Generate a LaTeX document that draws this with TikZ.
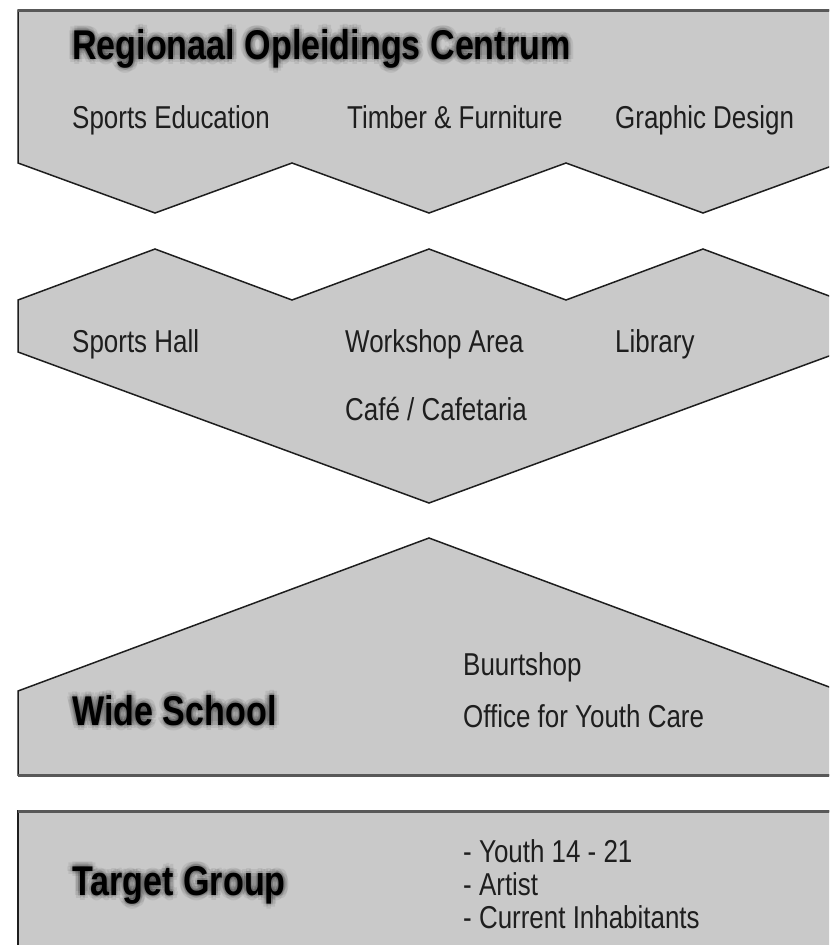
\documentclass[tikz,border=0pt]{standalone}
\usepackage{fontspec}
\setmainfont{Liberation Sans}[FakeStretch=0.82]
\usepackage{tikz}
\usetikzlibrary{positioning}

\definecolor{blockgray}{RGB}{201,201,201}
\definecolor{rimgray}{RGB}{88,88,88}
\definecolor{ink}{RGB}{30,30,30}

\tikzset{
	block/.style={fill=blockgray, draw=ink, line width=0.045cm, line join=miter},
	rim/.style={draw=rimgray, line width=0.09cm},
	item/.style={anchor=base west, inner sep=0pt, text=ink, font=\fontsize{27}{32}\selectfont},
	title/.style={anchor=base west, inner sep=0pt, text=black, font=\fontsize{35.5}{42}\selectfont\bfseries},
}

% bold heading with a soft dark halo behind it
\newcommand{\glowtitle}[3]{%
	\foreach \a in {0,45,...,315}{
		\foreach \r in {2,5}{
			\node[title, opacity=0.07, shift={(\a:\r)}] (#1-\a-\r) at (#2) {#3};
		}
	}
	\node[title] (#1) at (#2) {#3};
}

\begin{document}
\begin{tikzpicture}[x=0.03cm, y=-0.03cm]
				\useasboundingbox (0,0) rectangle (829,945);
				\clip (0,0) rectangle (829,945);
				%%%blocks
				%ROC, zigzag underneath
				\draw[block] (18,10) -- (840,10) -- (840,163) -- (703,213) -- (566,163) -- (429,213)
					-- (292,163) -- (155,213) -- (18,163) -- cycle;
				\draw[rim] (18,10) -- (840,10);
				%shared facilities
				\draw[block] (18,300) -- (155,249) -- (292,300) -- (429,249) -- (566,300) -- (703,249)
					-- (840,300) -- (840,352) -- (429,503) -- (18,352) -- cycle;
				%wide school, roof shape
				\draw[block] (18,691) -- (429,538) -- (840,691) -- (840,775) -- (18,775) -- cycle;
				\draw[rim] (18,775) -- (840,775);
				%target group
				\draw[block] (18,811) -- (840,811) -- (840,960) -- (18,960) -- cycle;
				\draw[rim] (18,811) -- (840,811);
				%%%labels
				%ROC
				\glowtitle{ROC}{72,59}{Regionaal Opleidings Centrum}
				\node[item] at (72,128) (SportsEdu){Sports Education};
				\node[item] at (347,128) (Timber){Timber \& Furniture};
				\node[item] at (615,128) (Graphic){Graphic Design};
				%facilities
				\node[item] at (72,352) (Hall){Sports Hall};
				\node[item] at (345,352) (Workshop){Workshop Area};
				\node[item] at (615,352) (Library){Library};
				\node[item] at (345,420) (Cafe){Café / Cafetaria};
				%wide school
				\glowtitle{Wide}{72,725}{Wide School}
				\node[item] at (463,675) (Buurt){Buurtshop};
				\node[item] at (463,727) (Office){Office for Youth Care};
				%target group
				\glowtitle{Target}{72,895}{Target Group}
				\node[item] at (463,862) (Youth){- Youth 14 - 21};
				\node[item] at (463,895) (Artist){- Artist};
				\node[item] at (463,928) (Inhab){- Current Inhabitants};
\end{tikzpicture}
\end{document}
